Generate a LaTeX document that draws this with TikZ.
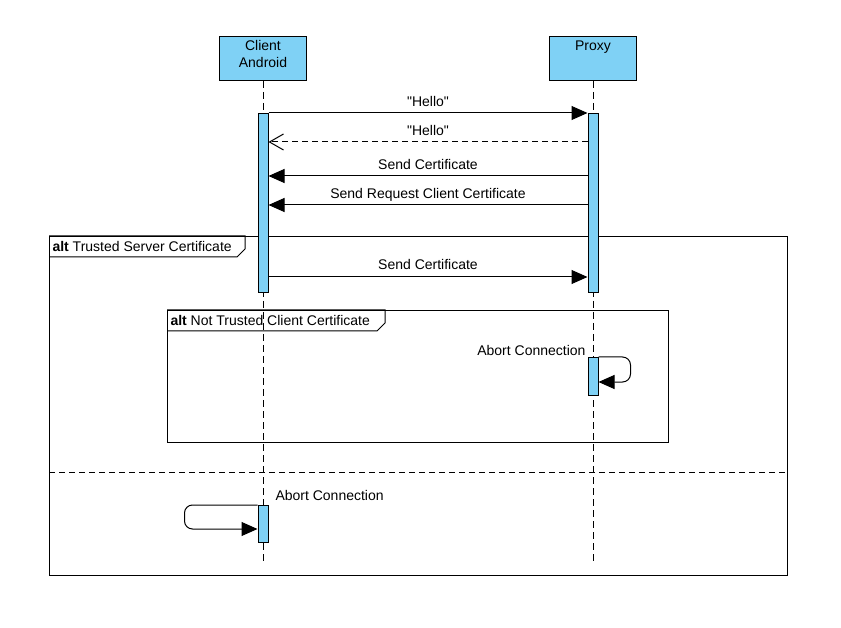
\documentclass[tikz,border=0pt]{standalone}
\usepackage{fontspec}
\setmainfont{Liberation Sans}[Ligatures=TeXOff]
\usetikzlibrary{arrows.meta}
\definecolor{actfill}{HTML}{7FD1F5}

\begin{document}
\begin{tikzpicture}[x=1pt,y=-1pt,
  font=\fontsize{14}{17}\selectfont,
  line width=1pt,
  participant/.style={draw, fill=actfill, minimum width=87pt, minimum height=44pt,
    anchor=north, inner sep=0pt},
  partlabel/.style={anchor=north, align=center, inner sep=0pt},
  activation/.style={draw, fill=actfill, minimum width=10pt, anchor=north, inner sep=0pt},
  lifeline/.style={dash pattern=on 7pt off 4pt, line width=1pt},
  msg/.style={-{Triangle[length=16pt,width=14pt]}},
  reply/.style={dash pattern=on 6pt off 4pt, -{Straight Barb[length=14pt,width=16pt]}},
  msglabel/.style={midway, anchor=base, yshift=6pt, inner sep=0pt},
  framebox/.style={draw, anchor=north west, inner sep=0pt},
  framelabel/.style={anchor=west, inner sep=0pt},
]
\useasboundingbox (0,0) rectangle (841,628);

% participants
\node[participant] (client) at (263,36) {};
\node[partlabel] (clienttxt) at (263,40) {Client\\Android};
\node[participant] (proxy) at (593,36) {};
\node[partlabel] (proxytxt) at (593,40) {Proxy};

% lifeline ends
\coordinate (clientend) at (263,562);
\coordinate (proxyend) at (593,562);
\draw[lifeline] (client.south) -- (clientend);
\draw[lifeline] (proxy.south) -- (proxyend);

% combined fragments
\node[framebox, minimum width=738pt, minimum height=339pt] (altA) at (49,236) {};
\draw (altA.north west) -- ++(196,0) -- ++(0,13) -- ++(-8,8) -- ++(-188,0);
\node[framelabel] (altAtxt) at (52,246.5) {\textbf{alt} Trusted Server Certificate};
\coordinate (sepL) at (49,472);
\coordinate (sepR) at (787,472);
\draw[dash pattern=on 6pt off 4pt] (sepL) -- (sepR);

\node[framebox, minimum width=501pt, minimum height=132pt] (altB) at (167,310) {};
\draw (altB.north west) -- ++(218,0) -- ++(0,13) -- ++(-8,8) -- ++(-210,0);
\node[framelabel] (altBtxt) at (170,320.5) {\textbf{alt} Not Trusted Client Certificate};

% activations
\node[activation, minimum height=179pt] (ca1) at (263,113) {};
\node[activation, minimum height=179pt] (pa1) at (593,113) {};
\node[activation, minimum height=38pt] (pa2) at (593,357) {};
\node[activation, minimum height=37pt] (ca2) at (263,505) {};

% messages
\draw[msg] (ca1.north east) -- (pa1.north west) node[msglabel] {"Hello"};
\draw[reply] ([yshift=-29pt]pa1.north west) -- ([yshift=-29pt]ca1.north east) node[msglabel] {"Hello"};
\draw[msg] ([yshift=-63pt]pa1.north west) -- ([yshift=-63pt]ca1.north east) node[msglabel] {Send Certificate};
\draw[msg] ([yshift=-92pt]pa1.north west) -- ([yshift=-92pt]ca1.north east) node[msglabel] {Send Request Client Certificate};
\draw[msg] ([yshift=-164pt]ca1.north east) -- ([yshift=-164pt]pa1.north west) node[msglabel, yshift=1pt] {Send Certificate};

% self messages
\draw[msg, rounded corners=8pt] (pa2.north east) -- ++(32,0) -- ++(0,25) -- ([yshift=-25pt]pa2.north east);
\node[anchor=east, inner sep=0pt] (abortP) at (586,350) {Abort Connection};
\draw[msg, rounded corners=8pt] (ca2.north west) -- ++(-73,0) -- ++(0,24) -- ([yshift=-24pt]ca2.north west);
\node[anchor=west, inner sep=0pt] (abortC) at (275,495) {Abort Connection};
\end{tikzpicture}
\end{document}
